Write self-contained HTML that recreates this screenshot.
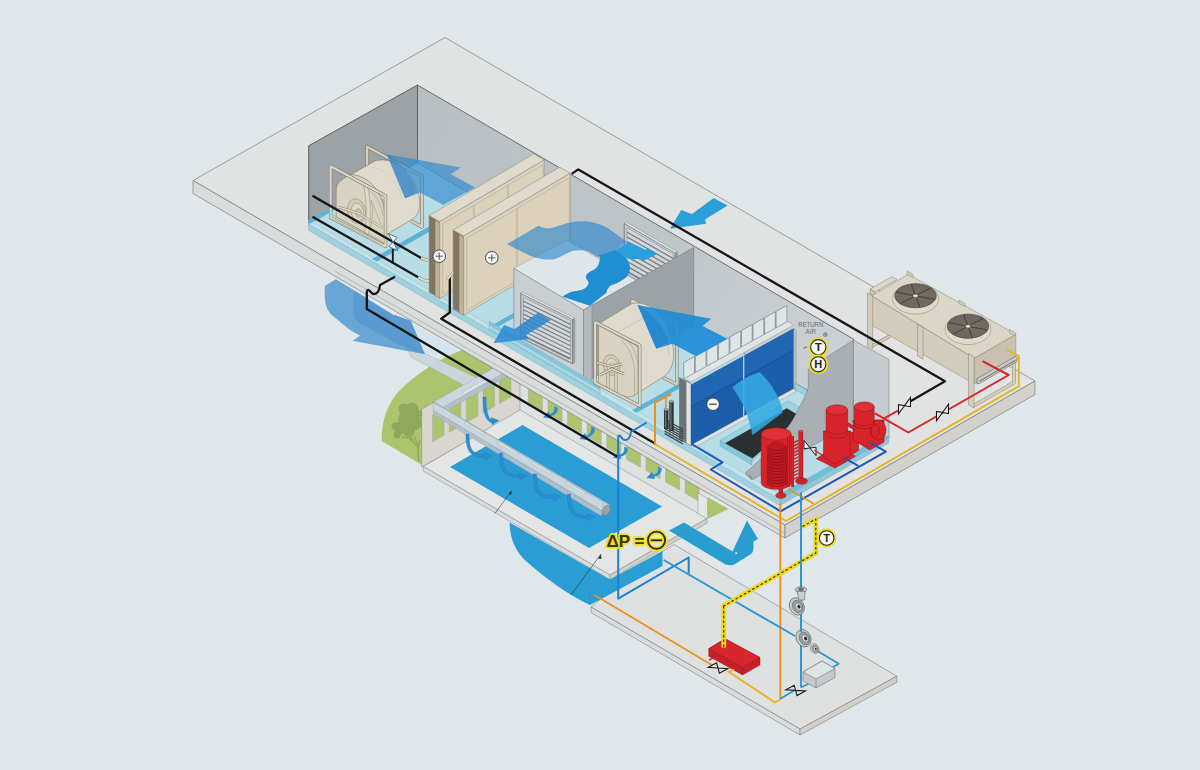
<!DOCTYPE html>
<html><head><meta charset="utf-8"><title>HVAC</title>
<style>
html,body{margin:0;padding:0;background:#e0e8eb;}
body{width:1200px;height:770px;overflow:hidden;font-family:"Liberation Sans",sans-serif;}
svg{display:block}
text{font-family:"Liberation Sans",sans-serif;}
</style></head><body>
<svg width="1200" height="770" viewBox="0 0 1200 770" stroke-linejoin="round">
<rect x="0" y="0" width="1200" height="770" fill="#e0e8eb"/>
<defs><linearGradient id="gw" gradientUnits="userSpaceOnUse" x1="417" y1="100" x2="853" y2="360"><stop offset="0" stop-color="#b7bfc3"/><stop offset="0.55" stop-color="#bfc6ca"/><stop offset="1" stop-color="#cbd1d4"/></linearGradient></defs>
<rect x="192" y="36.5" width="843" height="698.5" fill="#dfe7ea"/>
<polygon points="591.0,607.0 800.0,729.0 896.9,676.2 674.0,544.5 655.0,556.0" fill="#dee1e0" stroke="#6c7276" stroke-width="0.5" />
<polygon points="591.0,607.0 800.0,729.0 800.0,735.0 591.0,612.5" fill="#d9dcda" stroke="#6c7276" stroke-width="0.5" />
<polygon points="800.0,729.0 896.9,676.2 896.9,682.2 800.0,735.0" fill="#d2cfc9" stroke="#6c7276" stroke-width="0.5" />
<path d="M462,350 C440,358 415,375 400,390 C388,402 382,420 381.7,437 L381.7,441 L422,465 L560,470 L600,400 Z" fill="#acc46d" />
<circle cx="407" cy="419" r="8.5" fill="#8fa95c"/>
<circle cx="400" cy="428" r="6.5" fill="#8fa95c"/>
<circle cx="412" cy="409" r="6.5" fill="#8fa95c"/>
<circle cx="404" cy="409" r="5.5" fill="#8fa95c"/>
<circle cx="415" cy="423" r="7" fill="#8fa95c"/>
<circle cx="397" cy="435" r="3.6" fill="#8fa95c"/>
<circle cx="409" cy="431" r="6" fill="#8fa95c"/>
<circle cx="395" cy="426" r="3.5" fill="#8fa95c"/>
<circle cx="418" cy="414" r="4" fill="#8fa95c"/>
<path d="M418.8,461.5 L417.5,444 L414,436 M417.5,446 L409,438 L402,437 M413,441 L408,433 M417.6,450 L420,440" fill="none" stroke="#8fa95c" stroke-width="1.5" />
<polygon points="520.0,351.0 707.5,459.8 707.5,519.8 520.0,411.0" fill="#dde1e2" />
<polygon points="528.3,375.3 542.5,383.6 542.5,410.6 528.3,402.3" fill="#acc46d" stroke="#9aa" stroke-width="0.4" />
<polygon points="547.9,386.7 562.1,394.9 562.1,421.9 547.9,413.7" fill="#acc46d" stroke="#9aa" stroke-width="0.4" />
<polygon points="567.5,398.1 581.7,406.3 581.7,433.3 567.5,425.1" fill="#acc46d" stroke="#9aa" stroke-width="0.4" />
<polygon points="587.1,409.4 601.3,417.7 601.3,444.7 587.1,436.4" fill="#acc46d" stroke="#9aa" stroke-width="0.4" />
<polygon points="606.7,420.8 620.9,429.0 620.9,456.0 606.7,447.8" fill="#acc46d" stroke="#9aa" stroke-width="0.4" />
<polygon points="626.3,432.2 640.5,440.4 640.5,467.4 626.3,459.2" fill="#acc46d" stroke="#9aa" stroke-width="0.4" />
<polygon points="645.9,443.5 660.1,451.8 660.1,478.8 645.9,470.5" fill="#acc46d" stroke="#9aa" stroke-width="0.4" />
<polygon points="665.5,454.9 679.7,463.1 679.7,490.1 665.5,481.9" fill="#acc46d" stroke="#9aa" stroke-width="0.4" />
<polygon points="685.1,466.3 699.3,474.5 699.3,501.5 685.1,493.3" fill="#acc46d" stroke="#9aa" stroke-width="0.4" />
<polygon points="421.7,409.1 520.0,352.8 520.0,410.8 421.7,467.1" fill="#d9d6d0" stroke="#6c7276" stroke-width="0.4" />
<polygon points="432.5,414.9 444.1,408.3 444.1,435.3 432.5,441.9" fill="#acc46d" stroke="#9aa" stroke-width="0.4" />
<polygon points="449.2,405.4 460.8,398.7 460.8,425.7 449.2,432.4" fill="#acc46d" stroke="#9aa" stroke-width="0.4" />
<polygon points="466.3,395.6 477.9,388.9 477.9,415.9 466.3,422.6" fill="#acc46d" stroke="#9aa" stroke-width="0.4" />
<polygon points="483.0,386.0 494.6,379.3 494.6,406.3 483.0,413.0" fill="#acc46d" stroke="#9aa" stroke-width="0.4" />
<polygon points="499.4,376.6 511.0,369.9 511.0,396.9 499.4,403.6" fill="#acc46d" stroke="#9aa" stroke-width="0.4" />
<polygon points="423.3,466.5 610.0,575.0 707.0,518.5 520.0,410.0" fill="#e3e6e5" stroke="#6c7276" stroke-width="0.4" />
<polygon points="423.3,466.5 610.0,575.0 610.0,579.5 423.3,471.0" fill="#d9dcda" stroke="#6c7276" stroke-width="0.4" />
<polygon points="610.0,575.0 707.0,518.5 707.0,523.0 610.0,579.5" fill="#d2cfc9" stroke="#6c7276" stroke-width="0.4" />
<polygon points="450.0,467.0 522.5,425.0 662.0,506.5 589.0,548.0" fill="#2a9ed4" />
<path d="M509.5,522.5 L610,579.5 L662.5,551 L662.5,566 L590,605 C570,596 545,578 527,562 C516,552 510,540 509.5,522.5 Z" fill="#2a9ed4" />
<polyline points="590.0,592.0 590.0,605.0" fill="none" stroke="#2480b4" stroke-width="0.5" />
<polygon points="413.3,323.3 460.0,351.0 442.0,356.0 425.3,353.3" fill="#d5e4ec" />
<polygon points="405.0,344.0 478.7,378.7 465.0,386.0 411.0,357.0" fill="rgba(202,214,221,0.97)" stroke="#8e999f" stroke-width="0.35" />
<polygon points="433.3,402.0 497.0,366.0 507.0,371.5 443.0,407.5" fill="rgba(202,214,221,0.97)" stroke="#8e999f" stroke-width="0.35" />
<polygon points="443.0,407.5 507.0,371.5 507.0,376.5 443.0,412.5" fill="rgba(178,192,202,0.95)" stroke="#8e999f" stroke-width="0.3" />
<polygon points="462.0,392.5 486.0,379.0 489.0,380.7 465.0,394.2" fill="#dfe6ea" stroke="#8e999f" stroke-width="0.3" />
<polygon points="433.3,402.0 443.0,407.5 610.0,505.0 603.0,511.0" fill="rgba(202,214,221,0.97)" stroke="#8e999f" stroke-width="0.35" />
<polygon points="433.3,402.0 603.0,502.0 603.0,511.5 433.3,410.5" fill="rgba(202,214,221,0.97)" stroke="#8e999f" stroke-width="0.35" />
<polygon points="433.3,410.5 603.0,511.5 601.0,516.0 433.3,414.5" fill="rgba(178,192,202,0.95)" stroke="#8e999f" stroke-width="0.3" />
<polygon points="433.3,402.0 443.0,407.5 610.5,505.5 603.0,502.0" fill="#d9e2e7" stroke="#8e999f" stroke-width="0.3" />
<ellipse cx="606.3" cy="510.3" rx="3.6" ry="5.3" fill="#9aa2a7" stroke="#6f777c" stroke-width="0.4" transform="rotate(25 606.3 510.3)"/>
<polygon points="464.0,423.3 483.0,434.5 485.0,433.5 466.0,422.3" fill="#dfe7eb" stroke="#8e999f" stroke-width="0.3" />
<polygon points="497.0,442.8 516.0,454.0 518.0,453.0 499.0,441.8" fill="#dfe7eb" stroke="#8e999f" stroke-width="0.3" />
<polygon points="531.0,462.8 550.0,474.0 552.0,473.0 533.0,461.8" fill="#dfe7eb" stroke="#8e999f" stroke-width="0.3" />
<polygon points="565.0,482.9 584.0,494.1 586.0,493.1 567.0,481.9" fill="#dfe7eb" stroke="#8e999f" stroke-width="0.3" />
<path d="M482.9,397 C482.9,417 487.5,421.5 492,422.8 L492,425 L499,420.5 L491,417.5 L491.5,419.8 C489.5,419 486.1,415 486.1,397 Z" fill="#2a8fd2" stroke="#1f6fa8" stroke-width="0.3" />
<path d="M465.9,434 C465.9,452 470.5,456.5 485,457.8 L485,460 L492,455.5 L484,452.5 L484.5,454.8 C472.5,454 469.1,450 469.1,434 Z" fill="#2a8fd2" stroke="#1f6fa8" stroke-width="0.3" />
<path d="M499.4,453 C499.4,472 504,476.5 520,477.8 L520,480 L527,475.5 L519,472.5 L519.5,474.8 C506,474 502.6,470 502.6,453 Z" fill="#2a8fd2" stroke="#1f6fa8" stroke-width="0.3" />
<path d="M533.4,474 C533.4,493 538,497.5 554,498.8 L554,501 L561,496.5 L553,493.5 L553.5,495.8 C540,495 536.6,491 536.6,474 Z" fill="#2a8fd2" stroke="#1f6fa8" stroke-width="0.3" />
<path d="M567.4,494 C567.4,513 572,517.5 588,518.8 L588,521 L595,516.5 L587,513.5 L587.5,515.8 C574,515 570.6,511 570.6,494 Z" fill="#2a8fd2" stroke="#1f6fa8" stroke-width="0.3" />
<path d="M554.2,406 C555,412 551.5,415 549.5,413.5 L548.5,411.5 L543.0,417.5 L551.5,418.5 L550.7,416.3 C554.5,415 558,413 557.8,408 Z" fill="#2a8fd2" />
<path d="M591.2,426.5 C592,432.5 588,436.5 586,435.0 L585,433.0 L579.5,439.0 L588,440.0 L587.2,437.8 C591,436.5 595,433.5 594.8,428.5 Z" fill="#2a8fd2" />
<path d="M624.2,446.5 C625,452.5 621.5,455.5 619.5,454.0 L618.5,452.0 L613.0,458.0 L621.5,459.0 L620.7,456.8 C624.5,455.5 628,453.5 627.8,448.5 Z" fill="#2a8fd2" />
<path d="M658.2,466.5 C659,472.5 655,475.5 653,474.0 L652,472.0 L646.5,478.0 L655,479.0 L654.2,476.8 C658,475.5 662,473.5 661.8,468.5 Z" fill="#2a8fd2" />
<polyline points="495.0,513.3 511.3,491.3" fill="none" stroke="#333" stroke-width="0.6" />
<polygon points="511.8,490.6 508.6,493.6 511.0,495.3" fill="#333" />
<polyline points="571.0,595.0 601.0,554.0" fill="none" stroke="#333" stroke-width="0.6" />
<polygon points="601.0,554.0 598.0,558.5 601.5,559.0" fill="#333" />
<path d="M669,530.5 L684,522.5 L732.5,551.5 L747,520.5 L758,539 L753.5,541.5 L753.5,548 C753.5,551 752.5,553 751,554 L735,564 C732,566 726,565.5 723,563 Z" fill="#2a9dd0" />
<circle cx="736.2" cy="553.2" r="0.9" fill="#fff"/>
<polygon points="698.0,493.0 707.5,498.5 707.5,519.0 698.0,513.5" fill="#e4e7e6" stroke="#6c7276" stroke-width="0.35" />
<polygon points="707.5,497.0 728.5,509.0 707.5,519.0" fill="#acc46d" />
<path d="M335.8,279.2 L325,285.8 C324.5,293 324.5,298 325.3,301.7 C326,307 328,311 331.7,315 L350,330 L360,335.8 L352.5,340.8 L425,354.2 L410.8,320.8 L396.7,315.8 Z" fill="rgba(60,140,205,0.72)" />
<path d="M353.3,290.8 L353.3,315 C356,322 362,326 366.7,326.7 L396.7,344 L425,354.2 L410.8,320.8 L396.7,315.8 Z" fill="rgba(40,120,195,0.22)" />
<polygon points="368.5,299.5 371.0,296.5 398.0,312.0 394.5,315.5" fill="#e6edf0" stroke="#9aa" stroke-width="0.3" />
<polygon points="445.0,37.5 193.0,180.5 785.0,525.0 1035.0,381.0" fill="#e0e3e2" stroke="#6c7276" stroke-width="0.6" />
<polygon points="193.0,180.5 785.0,525.0 785.0,538.0 193.0,193.5" fill="#d9dcda" stroke="#6c7276" stroke-width="0.6" />
<polygon points="785.0,525.0 1035.0,381.0 1035.0,394.5 785.0,538.0" fill="#d3d1cb" stroke="#6c7276" stroke-width="0.6" />
<polyline points="335.0,271.1 784.0,533.0" fill="none" stroke="#7d8387" stroke-width="0.4" />
<polygon points="308.7,145.8 417.5,85.0 417.5,163.0 308.7,224.0" fill="#9ca3a7" stroke="#4f5558" stroke-width="0.9" />
<polygon points="417.5,85.0 853.8,339.3 853.8,417.3 417.5,163.0" fill="url(#gw)" stroke="#4f5558" stroke-width="0.8" />
<polygon points="417.5,163.0 308.7,224.0 308.7,225.0 780.0,500.0 888.7,437.5 888.7,417.7 853.0,416.9" fill="#b9dde6" />
<polygon points="308.7,224.0 780.0,499.5 780.0,505.5 308.7,230.5" fill="#a0d1df" stroke="#6aa7b8" stroke-width="0.4" />
<polygon points="780.0,499.5 888.7,437.5 888.7,443.0 780.0,505.5" fill="#8fc6d8" stroke="#6aa7b8" stroke-width="0.4" />
<polygon points="308.7,220.0 780.0,494.0 780.0,499.5 308.7,224.0" fill="#c2e2ea" stroke="#7fb5c4" stroke-width="0.35" />
<polygon points="780.0,494.0 888.7,432.5 888.7,437.5 780.0,499.5" fill="#74bed4" stroke="#5ea5bb" stroke-width="0.35" />
<polygon points="308.7,220.0 417.5,159.0 417.5,163.5 316.0,220.5 308.7,224.2" fill="#5fb3d2" />
<polygon points="372.0,258.9 432.0,224.7 436.9,227.4 376.9,261.6" fill="#5fb3d2" />
<polygon points="632.0,410.3 688.0,378.4 692.5,380.9 636.5,412.8" fill="#5fb3d2" />
<polygon points="489.0,327.0 516.0,311.6 520.5,314.1 493.5,329.5" fill="#5fb3d2" />
<g transform="matrix(1.0000 0.0000 0 1.0000 0.00 0.00)">
<polyline points="367.1,198.1 367.1,146.7 422.0,176.3 422.0,226.9 411.1,221.0" fill="none" stroke="#7a715c" stroke-width="3.4" />
<polyline points="367.1,198.1 367.1,146.7 422.0,176.3 422.0,226.9 411.1,221.0" fill="none" stroke="#d6d0be" stroke-width="2.4" />
</g>
<g transform="matrix(1.0000 0.0000 0 1.0000 0.00 0.00)">
<path d="M336.2,190 C336.5,181 342,178.5 351,174.5 L376,160.5 C396,156.5 415,172 419.6,200 C420.4,210 417.5,215.5 413.5,218.5 L386,235 L384,200 Z" fill="#dfdacb" stroke="#7a715c" stroke-width="0.5" />
<path d="M351,174.5 C366,175 380,188 384,206" fill="none" stroke="#b9ae95" stroke-width="0.5" />
<path d="M366,166.5 C384,167 398,180 402,199" fill="none" stroke="#c9bfa8" stroke-width="0.4" />
<path d="M336.2,190 C336.5,182 343,178.5 351,174.5 C368,176 382,190 384.5,212 L384.5,243.5 L336.2,217 Z" fill="#d8d2c0" stroke="#7a715c" stroke-width="0.5" />
<path d="M363.5,185 C367,200 367,222 364.5,232.5 L368.5,234.8 C371,222 371,200 367.5,186.5 Z" fill="#dfdacb" stroke="#7a715c" stroke-width="0.4" />
<ellipse cx="356.5" cy="211" rx="9" ry="12.5" fill="#d2cbb8" stroke="#8d8470" stroke-width="0.5" transform="rotate(-12 356.5 211)"/>
<ellipse cx="357.5" cy="212" rx="6.2" ry="9" fill="#ddd7c6" stroke="#8d8470" stroke-width="0.5" transform="rotate(-12 357.5 212)"/>
<ellipse cx="358.5" cy="213" rx="3" ry="4.4" fill="#c9c2ae" stroke="#8d8470" stroke-width="0.4" transform="rotate(-12 358.5 213)"/>
<polyline points="338.0,207.0 358.0,213.0 383.0,228.0" fill="none" stroke="#8d8470" stroke-width="2.6" />
<polyline points="338.0,207.0 358.0,213.0 383.0,228.0" fill="none" stroke="#e1d8c4" stroke-width="1.6" />
<path d="M369,190 C377,196 382,206 383,216 M371,200 L381,224 M371,200 C374,212 372,222 370,230" fill="none" stroke="#9a917b" stroke-width="0.5" />
<polyline points="330.6,166.2 385.5,195.8 385.5,246.4 330.6,217.6 330.6,166.2" fill="none" stroke="#7a715c" stroke-width="3.3" />
<polyline points="330.6,166.2 385.5,195.8 385.5,246.4 330.6,217.6 330.6,166.2" fill="none" stroke="#dbd5c4" stroke-width="2.3" />
<polyline points="333.6,219.2 382.6,245.7" fill="none" stroke="#a79d85" stroke-width="0.6" />
<polyline points="333.6,215.2 382.6,241.7" fill="none" stroke="#a79d85" stroke-width="0.6" />
</g>
<polygon points="429.2,215.5 439.7,221.6 439.7,298.6 429.2,292.5" fill="#a59a80" stroke="#6a614d" stroke-width="0.5" />
<polyline points="429.7,217.1 435.3,220.6" fill="none" stroke="#4d4536" stroke-width="0.7" />
<polyline points="429.7,218.7 435.3,222.2" fill="none" stroke="#4d4536" stroke-width="0.7" />
<polyline points="429.7,220.3 435.3,223.8" fill="none" stroke="#4d4536" stroke-width="0.7" />
<polyline points="429.7,221.9 435.3,225.4" fill="none" stroke="#4d4536" stroke-width="0.7" />
<polyline points="429.7,223.5 435.3,227.1" fill="none" stroke="#4d4536" stroke-width="0.7" />
<polyline points="429.7,225.1 435.3,228.7" fill="none" stroke="#4d4536" stroke-width="0.7" />
<polyline points="429.7,226.7 435.3,230.3" fill="none" stroke="#4d4536" stroke-width="0.7" />
<polyline points="429.7,228.3 435.3,231.9" fill="none" stroke="#4d4536" stroke-width="0.7" />
<polyline points="429.7,229.9 435.3,233.5" fill="none" stroke="#4d4536" stroke-width="0.7" />
<polyline points="429.7,231.5 435.3,235.1" fill="none" stroke="#4d4536" stroke-width="0.7" />
<polyline points="429.7,233.1 435.3,236.7" fill="none" stroke="#4d4536" stroke-width="0.7" />
<polyline points="429.7,234.8 435.3,238.3" fill="none" stroke="#4d4536" stroke-width="0.7" />
<polyline points="429.7,236.4 435.3,239.9" fill="none" stroke="#4d4536" stroke-width="0.7" />
<polyline points="429.7,238.0 435.3,241.5" fill="none" stroke="#4d4536" stroke-width="0.7" />
<polyline points="429.7,239.6 435.3,243.1" fill="none" stroke="#4d4536" stroke-width="0.7" />
<polyline points="429.7,241.2 435.3,244.7" fill="none" stroke="#4d4536" stroke-width="0.7" />
<polyline points="429.7,242.8 435.3,246.3" fill="none" stroke="#4d4536" stroke-width="0.7" />
<polyline points="429.7,244.4 435.3,247.9" fill="none" stroke="#4d4536" stroke-width="0.7" />
<polyline points="429.7,246.0 435.3,249.5" fill="none" stroke="#4d4536" stroke-width="0.7" />
<polyline points="429.7,247.6 435.3,251.1" fill="none" stroke="#4d4536" stroke-width="0.7" />
<polyline points="429.7,249.2 435.3,252.7" fill="none" stroke="#4d4536" stroke-width="0.7" />
<polyline points="429.7,250.8 435.3,254.3" fill="none" stroke="#4d4536" stroke-width="0.7" />
<polyline points="429.7,252.4 435.3,255.9" fill="none" stroke="#4d4536" stroke-width="0.7" />
<polyline points="429.7,254.0 435.3,257.5" fill="none" stroke="#4d4536" stroke-width="0.7" />
<polyline points="429.7,255.6 435.3,259.1" fill="none" stroke="#4d4536" stroke-width="0.7" />
<polyline points="429.7,257.2 435.3,260.7" fill="none" stroke="#4d4536" stroke-width="0.7" />
<polyline points="429.7,258.8 435.3,262.3" fill="none" stroke="#4d4536" stroke-width="0.7" />
<polyline points="429.7,260.4 435.3,263.9" fill="none" stroke="#4d4536" stroke-width="0.7" />
<polyline points="429.7,262.0 435.3,265.6" fill="none" stroke="#4d4536" stroke-width="0.7" />
<polyline points="429.7,263.6 435.3,267.2" fill="none" stroke="#4d4536" stroke-width="0.7" />
<polyline points="429.7,265.2 435.3,268.8" fill="none" stroke="#4d4536" stroke-width="0.7" />
<polyline points="429.7,266.8 435.3,270.4" fill="none" stroke="#4d4536" stroke-width="0.7" />
<polyline points="429.7,268.4 435.3,272.0" fill="none" stroke="#4d4536" stroke-width="0.7" />
<polyline points="429.7,270.0 435.3,273.6" fill="none" stroke="#4d4536" stroke-width="0.7" />
<polyline points="429.7,271.6 435.3,275.2" fill="none" stroke="#4d4536" stroke-width="0.7" />
<polyline points="429.7,273.2 435.3,276.8" fill="none" stroke="#4d4536" stroke-width="0.7" />
<polyline points="429.7,274.9 435.3,278.4" fill="none" stroke="#4d4536" stroke-width="0.7" />
<polyline points="429.7,276.5 435.3,280.0" fill="none" stroke="#4d4536" stroke-width="0.7" />
<polyline points="429.7,278.1 435.3,281.6" fill="none" stroke="#4d4536" stroke-width="0.7" />
<polyline points="429.7,279.7 435.3,283.2" fill="none" stroke="#4d4536" stroke-width="0.7" />
<polyline points="429.7,281.3 435.3,284.8" fill="none" stroke="#4d4536" stroke-width="0.7" />
<polyline points="429.7,282.9 435.3,286.4" fill="none" stroke="#4d4536" stroke-width="0.7" />
<polyline points="429.7,284.5 435.3,288.0" fill="none" stroke="#4d4536" stroke-width="0.7" />
<polyline points="429.7,286.1 435.3,289.6" fill="none" stroke="#4d4536" stroke-width="0.7" />
<polyline points="429.7,287.7 435.3,291.2" fill="none" stroke="#4d4536" stroke-width="0.7" />
<polyline points="429.7,289.3 435.3,292.8" fill="none" stroke="#4d4536" stroke-width="0.7" />
<polyline points="429.7,290.9 435.3,294.4" fill="none" stroke="#4d4536" stroke-width="0.7" />
<polygon points="435.3,221.1 439.7,223.6 439.7,298.6 435.3,296.1" fill="#cfc4aa" stroke="#8d8470" stroke-width="0.4" />
<polyline points="435.3,222.2 439.2,224.8" fill="none" stroke="#8d8470" stroke-width="0.4" />
<polyline points="435.3,223.8 439.2,226.4" fill="none" stroke="#8d8470" stroke-width="0.4" />
<polyline points="435.3,225.4 439.2,228.0" fill="none" stroke="#8d8470" stroke-width="0.4" />
<polyline points="435.3,227.1 439.2,229.6" fill="none" stroke="#8d8470" stroke-width="0.4" />
<polyline points="435.3,228.7 439.2,231.2" fill="none" stroke="#8d8470" stroke-width="0.4" />
<polyline points="435.3,230.3 439.2,232.8" fill="none" stroke="#8d8470" stroke-width="0.4" />
<polyline points="435.3,231.9 439.2,234.4" fill="none" stroke="#8d8470" stroke-width="0.4" />
<polyline points="435.3,233.5 439.2,236.0" fill="none" stroke="#8d8470" stroke-width="0.4" />
<polyline points="435.3,235.1 439.2,237.7" fill="none" stroke="#8d8470" stroke-width="0.4" />
<polyline points="435.3,236.7 439.2,239.3" fill="none" stroke="#8d8470" stroke-width="0.4" />
<polyline points="435.3,238.3 439.2,240.9" fill="none" stroke="#8d8470" stroke-width="0.4" />
<polyline points="435.3,239.9 439.2,242.5" fill="none" stroke="#8d8470" stroke-width="0.4" />
<polyline points="435.3,241.5 439.2,244.1" fill="none" stroke="#8d8470" stroke-width="0.4" />
<polyline points="435.3,243.1 439.2,245.7" fill="none" stroke="#8d8470" stroke-width="0.4" />
<polyline points="435.3,244.7 439.2,247.3" fill="none" stroke="#8d8470" stroke-width="0.4" />
<polyline points="435.3,246.3 439.2,248.9" fill="none" stroke="#8d8470" stroke-width="0.4" />
<polyline points="435.3,247.9 439.2,250.5" fill="none" stroke="#8d8470" stroke-width="0.4" />
<polyline points="435.3,249.5 439.2,252.1" fill="none" stroke="#8d8470" stroke-width="0.4" />
<polyline points="435.3,251.1 439.2,253.7" fill="none" stroke="#8d8470" stroke-width="0.4" />
<polyline points="435.3,252.7 439.2,255.3" fill="none" stroke="#8d8470" stroke-width="0.4" />
<polyline points="435.3,254.3 439.2,256.9" fill="none" stroke="#8d8470" stroke-width="0.4" />
<polyline points="435.3,255.9 439.2,258.5" fill="none" stroke="#8d8470" stroke-width="0.4" />
<polyline points="435.3,257.5 439.2,260.1" fill="none" stroke="#8d8470" stroke-width="0.4" />
<polyline points="435.3,259.1 439.2,261.7" fill="none" stroke="#8d8470" stroke-width="0.4" />
<polyline points="435.3,260.7 439.2,263.3" fill="none" stroke="#8d8470" stroke-width="0.4" />
<polyline points="435.3,262.3 439.2,264.9" fill="none" stroke="#8d8470" stroke-width="0.4" />
<polyline points="435.3,263.9 439.2,266.5" fill="none" stroke="#8d8470" stroke-width="0.4" />
<polyline points="435.3,265.6 439.2,268.1" fill="none" stroke="#8d8470" stroke-width="0.4" />
<polyline points="435.3,267.2 439.2,269.7" fill="none" stroke="#8d8470" stroke-width="0.4" />
<polyline points="435.3,268.8 439.2,271.3" fill="none" stroke="#8d8470" stroke-width="0.4" />
<polyline points="435.3,270.4 439.2,272.9" fill="none" stroke="#8d8470" stroke-width="0.4" />
<polyline points="435.3,272.0 439.2,274.5" fill="none" stroke="#8d8470" stroke-width="0.4" />
<polyline points="435.3,273.6 439.2,276.2" fill="none" stroke="#8d8470" stroke-width="0.4" />
<polyline points="435.3,275.2 439.2,277.8" fill="none" stroke="#8d8470" stroke-width="0.4" />
<polyline points="435.3,276.8 439.2,279.4" fill="none" stroke="#8d8470" stroke-width="0.4" />
<polyline points="435.3,278.4 439.2,281.0" fill="none" stroke="#8d8470" stroke-width="0.4" />
<polyline points="435.3,280.0 439.2,282.6" fill="none" stroke="#8d8470" stroke-width="0.4" />
<polyline points="435.3,281.6 439.2,284.2" fill="none" stroke="#8d8470" stroke-width="0.4" />
<polyline points="435.3,283.2 439.2,285.8" fill="none" stroke="#8d8470" stroke-width="0.4" />
<polyline points="435.3,284.8 439.2,287.4" fill="none" stroke="#8d8470" stroke-width="0.4" />
<polyline points="435.3,286.4 439.2,289.0" fill="none" stroke="#8d8470" stroke-width="0.4" />
<polyline points="435.3,288.0 439.2,290.6" fill="none" stroke="#8d8470" stroke-width="0.4" />
<polyline points="435.3,289.6 439.2,292.2" fill="none" stroke="#8d8470" stroke-width="0.4" />
<polyline points="435.3,291.2 439.2,293.8" fill="none" stroke="#8d8470" stroke-width="0.4" />
<polyline points="435.3,292.8 439.2,295.4" fill="none" stroke="#8d8470" stroke-width="0.4" />
<polyline points="435.3,294.4 439.2,297.0" fill="none" stroke="#8d8470" stroke-width="0.4" />
<polygon points="429.2,215.5 439.7,221.6 544.2,160.0 533.7,153.8" fill="#dfdacb" stroke="#8d8470" stroke-width="0.5" />
<polygon points="439.7,221.6 544.2,160.0 544.2,237.0 439.7,298.6" fill="#d8d2c0" stroke="#8d8470" stroke-width="0.5" />
<polygon points="442.7,223.8 543.2,164.6 543.2,234.6 442.7,293.8" fill="#dcd2bc" stroke="#a39a82" stroke-width="0.45" />
<polyline points="473.7,205.6 473.7,275.6" fill="none" stroke="#a39a82" stroke-width="1.6" />
<polyline points="473.7,205.6 473.7,275.6" fill="none" stroke="#e4dcc9" stroke-width="0.8" />
<polyline points="507.7,185.5 507.7,255.5" fill="none" stroke="#a39a82" stroke-width="1.6" />
<polyline points="507.7,185.5 507.7,255.5" fill="none" stroke="#e4dcc9" stroke-width="0.8" />
<polygon points="453.2,230.0 463.7,236.1 463.7,315.1 453.2,309.0" fill="#a59a80" stroke="#6a614d" stroke-width="0.5" />
<polyline points="453.7,231.6 459.3,235.1" fill="none" stroke="#4d4536" stroke-width="0.7" />
<polyline points="453.7,233.2 459.3,236.8" fill="none" stroke="#4d4536" stroke-width="0.7" />
<polyline points="453.7,234.8 459.3,238.4" fill="none" stroke="#4d4536" stroke-width="0.7" />
<polyline points="453.7,236.4 459.3,240.0" fill="none" stroke="#4d4536" stroke-width="0.7" />
<polyline points="453.7,238.1 459.3,241.6" fill="none" stroke="#4d4536" stroke-width="0.7" />
<polyline points="453.7,239.7 459.3,243.2" fill="none" stroke="#4d4536" stroke-width="0.7" />
<polyline points="453.7,241.3 459.3,244.8" fill="none" stroke="#4d4536" stroke-width="0.7" />
<polyline points="453.7,242.9 459.3,246.4" fill="none" stroke="#4d4536" stroke-width="0.7" />
<polyline points="453.7,244.5 459.3,248.0" fill="none" stroke="#4d4536" stroke-width="0.7" />
<polyline points="453.7,246.1 459.3,249.7" fill="none" stroke="#4d4536" stroke-width="0.7" />
<polyline points="453.7,247.7 459.3,251.3" fill="none" stroke="#4d4536" stroke-width="0.7" />
<polyline points="453.7,249.3 459.3,252.9" fill="none" stroke="#4d4536" stroke-width="0.7" />
<polyline points="453.7,251.0 459.3,254.5" fill="none" stroke="#4d4536" stroke-width="0.7" />
<polyline points="453.7,252.6 459.3,256.1" fill="none" stroke="#4d4536" stroke-width="0.7" />
<polyline points="453.7,254.2 459.3,257.7" fill="none" stroke="#4d4536" stroke-width="0.7" />
<polyline points="453.7,255.8 459.3,259.3" fill="none" stroke="#4d4536" stroke-width="0.7" />
<polyline points="453.7,257.4 459.3,260.9" fill="none" stroke="#4d4536" stroke-width="0.7" />
<polyline points="453.7,259.0 459.3,262.6" fill="none" stroke="#4d4536" stroke-width="0.7" />
<polyline points="453.7,260.6 459.3,264.2" fill="none" stroke="#4d4536" stroke-width="0.7" />
<polyline points="453.7,262.2 459.3,265.8" fill="none" stroke="#4d4536" stroke-width="0.7" />
<polyline points="453.7,263.9 459.3,267.4" fill="none" stroke="#4d4536" stroke-width="0.7" />
<polyline points="453.7,265.5 459.3,269.0" fill="none" stroke="#4d4536" stroke-width="0.7" />
<polyline points="453.7,267.1 459.3,270.6" fill="none" stroke="#4d4536" stroke-width="0.7" />
<polyline points="453.7,268.7 459.3,272.2" fill="none" stroke="#4d4536" stroke-width="0.7" />
<polyline points="453.7,270.3 459.3,273.8" fill="none" stroke="#4d4536" stroke-width="0.7" />
<polyline points="453.7,271.9 459.3,275.5" fill="none" stroke="#4d4536" stroke-width="0.7" />
<polyline points="453.7,273.5 459.3,277.1" fill="none" stroke="#4d4536" stroke-width="0.7" />
<polyline points="453.7,275.1 459.3,278.7" fill="none" stroke="#4d4536" stroke-width="0.7" />
<polyline points="453.7,276.8 459.3,280.3" fill="none" stroke="#4d4536" stroke-width="0.7" />
<polyline points="453.7,278.4 459.3,281.9" fill="none" stroke="#4d4536" stroke-width="0.7" />
<polyline points="453.7,280.0 459.3,283.5" fill="none" stroke="#4d4536" stroke-width="0.7" />
<polyline points="453.7,281.6 459.3,285.1" fill="none" stroke="#4d4536" stroke-width="0.7" />
<polyline points="453.7,283.2 459.3,286.7" fill="none" stroke="#4d4536" stroke-width="0.7" />
<polyline points="453.7,284.8 459.3,288.3" fill="none" stroke="#4d4536" stroke-width="0.7" />
<polyline points="453.7,286.4 459.3,290.0" fill="none" stroke="#4d4536" stroke-width="0.7" />
<polyline points="453.7,288.0 459.3,291.6" fill="none" stroke="#4d4536" stroke-width="0.7" />
<polyline points="453.7,289.7 459.3,293.2" fill="none" stroke="#4d4536" stroke-width="0.7" />
<polyline points="453.7,291.3 459.3,294.8" fill="none" stroke="#4d4536" stroke-width="0.7" />
<polyline points="453.7,292.9 459.3,296.4" fill="none" stroke="#4d4536" stroke-width="0.7" />
<polyline points="453.7,294.5 459.3,298.0" fill="none" stroke="#4d4536" stroke-width="0.7" />
<polyline points="453.7,296.1 459.3,299.6" fill="none" stroke="#4d4536" stroke-width="0.7" />
<polyline points="453.7,297.7 459.3,301.2" fill="none" stroke="#4d4536" stroke-width="0.7" />
<polyline points="453.7,299.3 459.3,302.9" fill="none" stroke="#4d4536" stroke-width="0.7" />
<polyline points="453.7,300.9 459.3,304.5" fill="none" stroke="#4d4536" stroke-width="0.7" />
<polyline points="453.7,302.6 459.3,306.1" fill="none" stroke="#4d4536" stroke-width="0.7" />
<polyline points="453.7,304.2 459.3,307.7" fill="none" stroke="#4d4536" stroke-width="0.7" />
<polyline points="453.7,305.8 459.3,309.3" fill="none" stroke="#4d4536" stroke-width="0.7" />
<polyline points="453.7,307.4 459.3,310.9" fill="none" stroke="#4d4536" stroke-width="0.7" />
<polygon points="459.3,235.6 463.7,238.1 463.7,315.1 459.3,312.6" fill="#cfc4aa" stroke="#8d8470" stroke-width="0.4" />
<polyline points="459.3,236.8 463.2,239.3" fill="none" stroke="#8d8470" stroke-width="0.4" />
<polyline points="459.3,238.4 463.2,240.9" fill="none" stroke="#8d8470" stroke-width="0.4" />
<polyline points="459.3,240.0 463.2,242.6" fill="none" stroke="#8d8470" stroke-width="0.4" />
<polyline points="459.3,241.6 463.2,244.2" fill="none" stroke="#8d8470" stroke-width="0.4" />
<polyline points="459.3,243.2 463.2,245.8" fill="none" stroke="#8d8470" stroke-width="0.4" />
<polyline points="459.3,244.8 463.2,247.4" fill="none" stroke="#8d8470" stroke-width="0.4" />
<polyline points="459.3,246.4 463.2,249.0" fill="none" stroke="#8d8470" stroke-width="0.4" />
<polyline points="459.3,248.0 463.2,250.6" fill="none" stroke="#8d8470" stroke-width="0.4" />
<polyline points="459.3,249.7 463.2,252.2" fill="none" stroke="#8d8470" stroke-width="0.4" />
<polyline points="459.3,251.3 463.2,253.8" fill="none" stroke="#8d8470" stroke-width="0.4" />
<polyline points="459.3,252.9 463.2,255.5" fill="none" stroke="#8d8470" stroke-width="0.4" />
<polyline points="459.3,254.5 463.2,257.1" fill="none" stroke="#8d8470" stroke-width="0.4" />
<polyline points="459.3,256.1 463.2,258.7" fill="none" stroke="#8d8470" stroke-width="0.4" />
<polyline points="459.3,257.7 463.2,260.3" fill="none" stroke="#8d8470" stroke-width="0.4" />
<polyline points="459.3,259.3 463.2,261.9" fill="none" stroke="#8d8470" stroke-width="0.4" />
<polyline points="459.3,260.9 463.2,263.5" fill="none" stroke="#8d8470" stroke-width="0.4" />
<polyline points="459.3,262.6 463.2,265.1" fill="none" stroke="#8d8470" stroke-width="0.4" />
<polyline points="459.3,264.2 463.2,266.7" fill="none" stroke="#8d8470" stroke-width="0.4" />
<polyline points="459.3,265.8 463.2,268.4" fill="none" stroke="#8d8470" stroke-width="0.4" />
<polyline points="459.3,267.4 463.2,270.0" fill="none" stroke="#8d8470" stroke-width="0.4" />
<polyline points="459.3,269.0 463.2,271.6" fill="none" stroke="#8d8470" stroke-width="0.4" />
<polyline points="459.3,270.6 463.2,273.2" fill="none" stroke="#8d8470" stroke-width="0.4" />
<polyline points="459.3,272.2 463.2,274.8" fill="none" stroke="#8d8470" stroke-width="0.4" />
<polyline points="459.3,273.8 463.2,276.4" fill="none" stroke="#8d8470" stroke-width="0.4" />
<polyline points="459.3,275.5 463.2,278.0" fill="none" stroke="#8d8470" stroke-width="0.4" />
<polyline points="459.3,277.1 463.2,279.6" fill="none" stroke="#8d8470" stroke-width="0.4" />
<polyline points="459.3,278.7 463.2,281.3" fill="none" stroke="#8d8470" stroke-width="0.4" />
<polyline points="459.3,280.3 463.2,282.9" fill="none" stroke="#8d8470" stroke-width="0.4" />
<polyline points="459.3,281.9 463.2,284.5" fill="none" stroke="#8d8470" stroke-width="0.4" />
<polyline points="459.3,283.5 463.2,286.1" fill="none" stroke="#8d8470" stroke-width="0.4" />
<polyline points="459.3,285.1 463.2,287.7" fill="none" stroke="#8d8470" stroke-width="0.4" />
<polyline points="459.3,286.7 463.2,289.3" fill="none" stroke="#8d8470" stroke-width="0.4" />
<polyline points="459.3,288.3 463.2,290.9" fill="none" stroke="#8d8470" stroke-width="0.4" />
<polyline points="459.3,290.0 463.2,292.5" fill="none" stroke="#8d8470" stroke-width="0.4" />
<polyline points="459.3,291.6 463.2,294.2" fill="none" stroke="#8d8470" stroke-width="0.4" />
<polyline points="459.3,293.2 463.2,295.8" fill="none" stroke="#8d8470" stroke-width="0.4" />
<polyline points="459.3,294.8 463.2,297.4" fill="none" stroke="#8d8470" stroke-width="0.4" />
<polyline points="459.3,296.4 463.2,299.0" fill="none" stroke="#8d8470" stroke-width="0.4" />
<polyline points="459.3,298.0 463.2,300.6" fill="none" stroke="#8d8470" stroke-width="0.4" />
<polyline points="459.3,299.6 463.2,302.2" fill="none" stroke="#8d8470" stroke-width="0.4" />
<polyline points="459.3,301.2 463.2,303.8" fill="none" stroke="#8d8470" stroke-width="0.4" />
<polyline points="459.3,302.9 463.2,305.4" fill="none" stroke="#8d8470" stroke-width="0.4" />
<polyline points="459.3,304.5 463.2,307.0" fill="none" stroke="#8d8470" stroke-width="0.4" />
<polyline points="459.3,306.1 463.2,308.7" fill="none" stroke="#8d8470" stroke-width="0.4" />
<polyline points="459.3,307.7 463.2,310.3" fill="none" stroke="#8d8470" stroke-width="0.4" />
<polyline points="459.3,309.3 463.2,311.9" fill="none" stroke="#8d8470" stroke-width="0.4" />
<polyline points="459.3,310.9 463.2,313.5" fill="none" stroke="#8d8470" stroke-width="0.4" />
<polygon points="453.2,230.0 463.7,236.1 570.2,173.3 559.7,167.2" fill="#dfdacb" stroke="#8d8470" stroke-width="0.5" />
<polygon points="463.7,236.1 570.2,173.3 570.2,252.3 463.7,315.1" fill="#d8d2c0" stroke="#8d8470" stroke-width="0.5" />
<polygon points="466.7,238.3 569.2,177.9 569.2,249.9 466.7,310.3" fill="#dcd2bc" stroke="#a39a82" stroke-width="0.45" />
<polyline points="516.7,208.8 516.7,280.8" fill="none" stroke="#a39a82" stroke-width="1.6" />
<polyline points="516.7,208.8 516.7,280.8" fill="none" stroke="#e4dcc9" stroke-width="0.8" />
<circle cx="491.8" cy="257.8" r="6.3" fill="#f4f6f6" stroke="#333" stroke-width="0.9"/>
<polyline points="488.2,257.8 495.4,257.8" fill="none" stroke="#555" stroke-width="1.0" />
<polyline points="491.8,254.2 491.8,261.4" fill="none" stroke="#555" stroke-width="1.0" />
<circle cx="439.2" cy="256.2" r="6.3" fill="#f4f6f6" stroke="#333" stroke-width="0.9"/>
<polyline points="435.6,256.2 442.8,256.2" fill="none" stroke="#555" stroke-width="1.0" />
<polyline points="439.2,252.6 439.2,259.8" fill="none" stroke="#555" stroke-width="1.0" />
<polygon points="624.2,223.3 675.2,252.9 675.2,302.9 624.2,273.3" fill="#c3c8cb" stroke="#565c60" stroke-width="0.7" />
<polygon points="627.2,228.0 672.8,254.1 672.8,298.1 627.2,272.0" fill="#7a8185" stroke="#565c60" stroke-width="0.5" />
<polygon points="627.2,228.0 672.8,254.1 672.8,257.5 627.2,231.4" fill="#d3d7d9" />
<polygon points="627.2,232.9 672.8,259.0 672.8,262.4 627.2,236.3" fill="#d3d7d9" />
<polygon points="627.2,237.8 672.8,263.9 672.8,267.2 627.2,241.1" fill="#d3d7d9" />
<polygon points="627.2,242.7 672.8,268.8 672.8,272.1 627.2,246.0" fill="#d3d7d9" />
<polygon points="627.2,247.6 672.8,273.7 672.8,277.0 627.2,250.9" fill="#d3d7d9" />
<polygon points="627.2,252.5 672.8,278.6 672.8,281.9 627.2,255.8" fill="#d3d7d9" />
<polygon points="627.2,257.4 672.8,283.5 672.8,286.8 627.2,260.7" fill="#d3d7d9" />
<polygon points="627.2,262.3 672.8,288.4 672.8,291.7 627.2,265.6" fill="#d3d7d9" />
<polygon points="627.2,267.2 672.8,293.3 672.8,296.6 627.2,270.5" fill="#d3d7d9" />
<polygon points="675.2,252.9 677.4,251.8 677.4,301.8 675.2,302.9" fill="#9aa1a4" stroke="#6f7578" stroke-width="0.4" />
<polygon points="624.2,223.3 626.4,222.2 677.4,251.8 675.2,252.9" fill="#e3e6e7" stroke="#6f7578" stroke-width="0.4" />
<polygon points="513.8,268.3 583.5,310.0 636.4,280.5 566.7,240.0" fill="#dfe6ea" stroke="#8b9296" stroke-width="0.4" />
<polygon points="583.5,310.0 693.7,247.5 693.7,325.5 583.5,383.0" fill="#9ca3a7" stroke="#6f7578" stroke-width="0.5" />
<polygon points="583.5,310.0 592.0,305.3 592.0,387.5 583.5,383.0" fill="#b3b9bc" stroke="#6f7578" stroke-width="0.4" />
<polygon points="513.8,268.3 583.5,310.0 583.5,383.0 513.8,342.0" fill="#c9ced1" stroke="#6f7578" stroke-width="0.5" />
<polygon points="520.8,293.3 572.5,319.2 572.5,363.7 520.8,337.8" fill="#c3c8cb" stroke="#565c60" stroke-width="0.7" />
<polygon points="523.8,297.8 570.1,320.7 570.1,359.2 523.8,336.3" fill="#7a8185" stroke="#565c60" stroke-width="0.5" />
<polygon points="523.8,297.8 570.1,320.7 570.1,323.6 523.8,300.7" fill="#d3d7d9" />
<polygon points="523.8,302.1 570.1,324.9 570.1,327.8 523.8,305.0" fill="#d3d7d9" />
<polygon points="523.8,306.4 570.1,329.2 570.1,332.1 523.8,309.3" fill="#d3d7d9" />
<polygon points="523.8,310.6 570.1,333.5 570.1,336.4 523.8,313.5" fill="#d3d7d9" />
<polygon points="523.8,314.9 570.1,337.8 570.1,340.7 523.8,317.8" fill="#d3d7d9" />
<polygon points="523.8,319.2 570.1,342.0 570.1,344.9 523.8,322.1" fill="#d3d7d9" />
<polygon points="523.8,323.5 570.1,346.3 570.1,349.2 523.8,326.4" fill="#d3d7d9" />
<polygon points="523.8,327.7 570.1,350.6 570.1,353.5 523.8,330.7" fill="#d3d7d9" />
<polygon points="523.8,332.0 570.1,354.9 570.1,357.8 523.8,334.9" fill="#d3d7d9" />
<polygon points="572.5,319.2 574.7,318.1 574.7,362.6 572.5,363.7" fill="#9aa1a4" stroke="#6f7578" stroke-width="0.4" />
<polygon points="520.8,293.3 523.0,292.2 574.7,318.1 572.5,319.2" fill="#e3e6e7" stroke="#6f7578" stroke-width="0.4" />
<polygon points="489.0,321.0 600.0,385.7 600.0,393.7 489.0,329.0" fill="#84c6d9" stroke="#6aa7b8" stroke-width="0.3" />
<polygon points="489.0,325.0 600.0,389.7 600.0,393.7 489.0,329.0" fill="#a9d6e2" stroke="#6aa7b8" stroke-width="0.3" />
<polyline points="632.2,361.3 632.2,300.6 676.8,323.9 676.8,384.6 662.8,377.3" fill="none" stroke="#7a715c" stroke-width="3.3" />
<polyline points="632.2,361.3 632.2,300.6 676.8,323.9 676.8,384.6 662.8,377.3" fill="none" stroke="#d6d0be" stroke-width="2.3" />
<path d="M598.5,324 L632,303.5 C652,300 669,318 673.6,350 C674.6,366 669,374 661,378.5 L640,391.5 L640,346 Z" fill="#dfdacb" stroke="#7a715c" stroke-width="0.5" />
<path d="M619,331.5 L646,316.5 C660,322 668,338 669,356" fill="none" stroke="#b9ae95" stroke-width="0.5" />
<path d="M598.5,325 L638,346.5 L638,393 C632,399 622,397.5 613,393 L598.5,385 Z" fill="#d8d2c0" stroke="#7a715c" stroke-width="0.5" />
<path d="M619,333 C630,340 637,352 638,366" fill="none" stroke="#9a917b" stroke-width="0.5" />
<path d="M621,340 C629,347 634,358 634.5,372 L634.5,396" fill="none" stroke="#9a917b" stroke-width="0.5" />
<ellipse cx="611.5" cy="365" rx="8.3" ry="10.5" fill="#d2cbb8" stroke="#8d8470" stroke-width="0.5" transform="rotate(-14 611.5 365)"/>
<ellipse cx="612" cy="365.5" rx="5.6" ry="7.4" fill="#ddd7c6" stroke="#8d8470" stroke-width="0.5" transform="rotate(-14 612 365.5)"/>
<ellipse cx="612.5" cy="366" rx="2.8" ry="3.6" fill="#d8cfb8" stroke="#8d8470" stroke-width="0.4"/>
<polyline points="596.0,362.5 612.0,366.5 622.0,364.0" fill="none" stroke="#7a715c" stroke-width="2.8" />
<polyline points="596.0,362.5 612.0,366.5 622.0,364.0" fill="none" stroke="#e1d8c4" stroke-width="1.8" />
<polyline points="608.0,372.0 608.0,390.0" fill="none" stroke="#7a715c" stroke-width="2.8" />
<polyline points="608.0,372.0 608.0,390.0" fill="none" stroke="#e1d8c4" stroke-width="1.8" />
<polyline points="616.0,374.0 616.0,395.0" fill="none" stroke="#7a715c" stroke-width="2.8" />
<polyline points="616.0,374.0 616.0,395.0" fill="none" stroke="#e1d8c4" stroke-width="1.8" />
<polyline points="600.0,375.0 612.0,369.0 624.0,374.0" fill="none" stroke="#7a715c" stroke-width="2.8" />
<polyline points="600.0,375.0 612.0,369.0 624.0,374.0" fill="none" stroke="#e1d8c4" stroke-width="1.8" />
<polyline points="595.1,322.0 639.7,345.3 639.7,406.0 595.1,382.7 595.1,322.0" fill="none" stroke="#7a715c" stroke-width="3.3" />
<polyline points="595.1,322.0 639.7,345.3 639.7,406.0 595.1,382.7 595.1,322.0" fill="none" stroke="#dbd5c4" stroke-width="2.3" />
<polygon points="683.7,362.5 694.5,356.6 694.5,373.1 683.7,379.0" fill="#dfe4e7" stroke="#6b7377" stroke-width="0.6" />
<polygon points="695.3,356.1 706.0,350.2 706.0,366.7 695.3,372.6" fill="#dfe4e7" stroke="#6b7377" stroke-width="0.6" />
<polygon points="706.8,349.7 717.6,343.8 717.6,360.3 706.8,366.2" fill="#dfe4e7" stroke="#6b7377" stroke-width="0.6" />
<polygon points="718.4,343.3 729.1,337.4 729.1,353.9 718.4,359.8" fill="#dfe4e7" stroke="#6b7377" stroke-width="0.6" />
<polygon points="729.9,336.9 740.7,331.0 740.7,347.5 729.9,353.4" fill="#dfe4e7" stroke="#6b7377" stroke-width="0.6" />
<polygon points="741.5,330.5 752.2,324.6 752.2,341.1 741.5,347.0" fill="#dfe4e7" stroke="#6b7377" stroke-width="0.6" />
<polygon points="753.0,324.2 763.8,318.2 763.8,334.7 753.0,340.7" fill="#dfe4e7" stroke="#6b7377" stroke-width="0.6" />
<polygon points="764.6,317.8 775.3,311.8 775.3,328.3 764.6,334.3" fill="#dfe4e7" stroke="#6b7377" stroke-width="0.6" />
<polygon points="776.1,311.4 786.9,305.4 786.9,321.9 776.1,327.9" fill="#dfe4e7" stroke="#6b7377" stroke-width="0.6" />
<polygon points="683.7,379.0 787.7,321.5 793.7,325.0 691.2,382.0" fill="#dfe4e6" stroke="#7d8487" stroke-width="0.4" />
<polygon points="679.5,377.5 691.2,384.0 691.2,446.0 679.5,439.5" fill="#7d878c" stroke="#50575a" stroke-width="0.5" />
<polyline points="680.0,379.6 686.0,382.9" fill="none" stroke="#3f4548" stroke-width="0.5" />
<polyline points="680.0,381.2 686.0,384.5" fill="none" stroke="#3f4548" stroke-width="0.5" />
<polyline points="680.0,382.8 686.0,386.1" fill="none" stroke="#3f4548" stroke-width="0.5" />
<polyline points="680.0,384.4 686.0,387.7" fill="none" stroke="#3f4548" stroke-width="0.5" />
<polyline points="680.0,386.0 686.0,389.3" fill="none" stroke="#3f4548" stroke-width="0.5" />
<polyline points="680.0,387.6 686.0,390.9" fill="none" stroke="#3f4548" stroke-width="0.5" />
<polyline points="680.0,389.2 686.0,392.5" fill="none" stroke="#3f4548" stroke-width="0.5" />
<polyline points="680.0,390.8 686.0,394.1" fill="none" stroke="#3f4548" stroke-width="0.5" />
<polyline points="680.0,392.4 686.0,395.7" fill="none" stroke="#3f4548" stroke-width="0.5" />
<polyline points="680.0,394.0 686.0,397.3" fill="none" stroke="#3f4548" stroke-width="0.5" />
<polyline points="680.0,395.6 686.0,398.9" fill="none" stroke="#3f4548" stroke-width="0.5" />
<polyline points="680.0,397.2 686.0,400.5" fill="none" stroke="#3f4548" stroke-width="0.5" />
<polyline points="680.0,398.8 686.0,402.1" fill="none" stroke="#3f4548" stroke-width="0.5" />
<polyline points="680.0,400.4 686.0,403.7" fill="none" stroke="#3f4548" stroke-width="0.5" />
<polyline points="680.0,402.0 686.0,405.3" fill="none" stroke="#3f4548" stroke-width="0.5" />
<polyline points="680.0,403.6 686.0,406.9" fill="none" stroke="#3f4548" stroke-width="0.5" />
<polyline points="680.0,405.2 686.0,408.5" fill="none" stroke="#3f4548" stroke-width="0.5" />
<polyline points="680.0,406.8 686.0,410.1" fill="none" stroke="#3f4548" stroke-width="0.5" />
<polyline points="680.0,408.4 686.0,411.7" fill="none" stroke="#3f4548" stroke-width="0.5" />
<polyline points="680.0,410.0 686.0,413.3" fill="none" stroke="#3f4548" stroke-width="0.5" />
<polyline points="680.0,411.6 686.0,414.9" fill="none" stroke="#3f4548" stroke-width="0.5" />
<polyline points="680.0,413.2 686.0,416.5" fill="none" stroke="#3f4548" stroke-width="0.5" />
<polyline points="680.0,414.8 686.0,418.1" fill="none" stroke="#3f4548" stroke-width="0.5" />
<polyline points="680.0,416.4 686.0,419.7" fill="none" stroke="#3f4548" stroke-width="0.5" />
<polyline points="680.0,418.0 686.0,421.3" fill="none" stroke="#3f4548" stroke-width="0.5" />
<polyline points="680.0,419.6 686.0,422.9" fill="none" stroke="#3f4548" stroke-width="0.5" />
<polyline points="680.0,421.2 686.0,424.5" fill="none" stroke="#3f4548" stroke-width="0.5" />
<polyline points="680.0,422.8 686.0,426.1" fill="none" stroke="#3f4548" stroke-width="0.5" />
<polyline points="680.0,424.4 686.0,427.7" fill="none" stroke="#3f4548" stroke-width="0.5" />
<polyline points="680.0,426.0 686.0,429.3" fill="none" stroke="#3f4548" stroke-width="0.5" />
<polyline points="680.0,427.6 686.0,430.9" fill="none" stroke="#3f4548" stroke-width="0.5" />
<polyline points="680.0,429.2 686.0,432.5" fill="none" stroke="#3f4548" stroke-width="0.5" />
<polyline points="680.0,430.8 686.0,434.1" fill="none" stroke="#3f4548" stroke-width="0.5" />
<polyline points="680.0,432.4 686.0,435.7" fill="none" stroke="#3f4548" stroke-width="0.5" />
<polyline points="680.0,434.0 686.0,437.3" fill="none" stroke="#3f4548" stroke-width="0.5" />
<polyline points="680.0,435.6 686.0,438.9" fill="none" stroke="#3f4548" stroke-width="0.5" />
<polyline points="680.0,437.2 686.0,440.5" fill="none" stroke="#3f4548" stroke-width="0.5" />
<polygon points="686.3,381.3 691.2,384.0 691.2,446.0 686.3,443.3" fill="#dfe4e6" stroke="#7d8487" stroke-width="0.4" />
<polygon points="691.2,385.0 793.7,328.7 793.7,388.7 691.2,445.0" fill="#1d5eab" stroke="#143f78" stroke-width="0.5" />
<polygon points="691.2,385.0 793.7,328.7 793.7,350.2 691.2,406.5" fill="#2166b3" />
<polyline points="691.2,406.5 793.7,350.2" fill="none" stroke="#143f78" stroke-width="0.5" />
<polyline points="743.7,356.2 743.7,416.2" fill="none" stroke="#cfd6da" stroke-width="1.2" />
<polygon points="691.2,445.0 793.7,388.7 796.7,391.2 694.2,447.5" fill="#dfe4e6" stroke="#7d8487" stroke-width="0.4" />
<polygon points="793.7,328.7 796.2,330.2 796.2,390.2 793.7,388.7" fill="#b9c0c4" stroke="#7d8487" stroke-width="0.4" />
<polyline points="664.5,419.0 683.0,429.5" fill="none" stroke="#3a4043" stroke-width="1.1" />
<polyline points="664.5,421.4 683.0,431.9" fill="none" stroke="#3a4043" stroke-width="1.1" />
<polyline points="664.5,423.8 683.0,434.3" fill="none" stroke="#3a4043" stroke-width="1.1" />
<polyline points="664.5,426.2 683.0,436.7" fill="none" stroke="#3a4043" stroke-width="1.1" />
<polyline points="664.5,428.6 683.0,439.1" fill="none" stroke="#3a4043" stroke-width="1.1" />
<polyline points="664.5,431.0 683.0,441.5" fill="none" stroke="#3a4043" stroke-width="1.1" />
<polyline points="664.5,433.4 683.0,443.9" fill="none" stroke="#3a4043" stroke-width="1.1" />
<polyline points="666.0,421.9 666.0,434.9" fill="none" stroke="#565d61" stroke-width="0.6" />
<polyline points="669.6,423.9 669.6,436.9" fill="none" stroke="#565d61" stroke-width="0.6" />
<polyline points="673.2,426.0 673.2,439.0" fill="none" stroke="#565d61" stroke-width="0.6" />
<polyline points="676.8,428.0 676.8,441.0" fill="none" stroke="#565d61" stroke-width="0.6" />
<polyline points="680.4,430.1 680.4,443.1" fill="none" stroke="#565d61" stroke-width="0.6" />
<polyline points="666.2,409.5 666.2,429.0" fill="none" stroke="#2e3336" stroke-width="4.4" />
<polyline points="665.6,410.5 665.6,428.0" fill="none" stroke="#6a7276" stroke-width="1.4" />
<ellipse cx="666.2" cy="409.5" rx="2.2" ry="1.2" fill="#aeb5b9" stroke="#2e3336" stroke-width="0.4"/>
<polyline points="671.5,401.5 671.5,431.0" fill="none" stroke="#2e3336" stroke-width="4.4" />
<polyline points="670.9,402.5 670.9,430.0" fill="none" stroke="#6a7276" stroke-width="1.4" />
<ellipse cx="671.5" cy="401.5" rx="2.2" ry="1.2" fill="#aeb5b9" stroke="#2e3336" stroke-width="0.4"/>
<circle cx="713" cy="404.2" r="6.3" fill="#f4f6f6" stroke="#333" stroke-width="0.9"/>
<polyline points="709.2,404.2 716.8,404.2" fill="none" stroke="#444" stroke-width="1.2" />
<polygon points="720.0,440.5 788.5,400.8 806.0,411.0 752.0,461.0 747.0,458.0" fill="#9fd2e0" stroke="#5d9fb3" stroke-width="0.4" />
<polygon points="720.0,440.5 752.0,459.0 752.0,465.0 720.0,446.0" fill="#86c8da" stroke="#5d9fb3" stroke-width="0.4" />
<polygon points="725.0,443.3 786.7,408.3 800.0,416.0 752.5,458.5" fill="#2b2f31" />
<polygon points="795.5,383.5 808.0,391.0 808.0,397.0 795.5,389.5" fill="#9fd2e0" stroke="#5d9fb3" stroke-width="0.4" />
<polygon points="853.3,340.0 889.0,359.5 889.0,438.0 853.3,418.5" fill="#c5cbcf" stroke="#6f7578" stroke-width="0.5" />
<path d="M808.3,369 L853.3,340 L853.3,422 L820,441.5 L751.7,480 L745.8,474 L745.8,472.5 C770,452 790,428 799,408 C805,397 808,390 808.3,386.5 Z" fill="#a9afb2" stroke="#6f7578" stroke-width="0.5" />
<path d="M745.8,474 L751.7,480 L751.7,476 Z" fill="#8f9598" />
<text x="810.8" y="327" font-size="6.3" text-anchor="middle" fill="#6a7074" textLength="25" lengthAdjust="spacingAndGlyphs">RETURN</text>
<text x="810.8" y="334.2" font-size="6.3" text-anchor="middle" fill="#6a7074">AIR</text>
<circle cx="825.3" cy="334.6" r="2" fill="#9aa0a3" stroke="#555" stroke-width="0.4"/>
<polyline points="803.5,348.5 807.0,346.8" fill="none" stroke="#777" stroke-width="1.2" />
<circle cx="818.3" cy="347.2" r="10.0" fill="#eedb1c"/>
<circle cx="818.3" cy="347.2" r="7.6" fill="#f4f5f5" stroke="#222" stroke-width="1.1"/>
<text x="818.3" y="351.15999999999997" font-size="11" font-weight="bold" text-anchor="middle" fill="#222">T</text>
<circle cx="818.3" cy="364.3" r="10.0" fill="#eedb1c"/>
<circle cx="818.3" cy="364.3" r="7.6" fill="#f4f5f5" stroke="#222" stroke-width="1.1"/>
<text x="818.3" y="368.26" font-size="11" font-weight="bold" text-anchor="middle" fill="#222">H</text>
<polyline points="780.8,481.0 780.8,495.0" fill="none" stroke="#8e1419" stroke-width="4.2" />
<polyline points="780.8,481.0 780.8,495.0" fill="none" stroke="#d8232a" stroke-width="3.2" />
<ellipse cx="780.8" cy="495.5" rx="5.2" ry="2.8" fill="#d8232a" stroke="#8e1419" stroke-width="0.5"/>
<path d="M761.2,434 L761.2,483 A15,6.3 0 0 0 791.2,483 L791.2,434 Z" fill="#d8232a" stroke="#8e1419" stroke-width="0.5" />
<ellipse cx="776.2" cy="434" rx="15" ry="6.3" fill="#df3036" stroke="#8e1419" stroke-width="0.5"/>
<path d="M767.5,485 L767.5,448 A9.5,6 0 0 1 786.5,448 L786.5,485" fill="#bd1b22" stroke="#9c151b" stroke-width="0.6" />
<path d="M767.5,447 A9.5,3.6 0 0 0 786.5,447" fill="none" stroke="#8e1217" stroke-width="0.9" />
<path d="M767.5,450 A9.5,3.6 0 0 0 786.5,450" fill="none" stroke="#8e1217" stroke-width="0.9" />
<path d="M767.5,453 A9.5,3.6 0 0 0 786.5,453" fill="none" stroke="#8e1217" stroke-width="0.9" />
<path d="M767.5,456 A9.5,3.6 0 0 0 786.5,456" fill="none" stroke="#8e1217" stroke-width="0.9" />
<path d="M767.5,459 A9.5,3.6 0 0 0 786.5,459" fill="none" stroke="#8e1217" stroke-width="0.9" />
<path d="M767.5,462 A9.5,3.6 0 0 0 786.5,462" fill="none" stroke="#8e1217" stroke-width="0.9" />
<path d="M767.5,465 A9.5,3.6 0 0 0 786.5,465" fill="none" stroke="#8e1217" stroke-width="0.9" />
<path d="M767.5,468 A9.5,3.6 0 0 0 786.5,468" fill="none" stroke="#8e1217" stroke-width="0.9" />
<path d="M767.5,471 A9.5,3.6 0 0 0 786.5,471" fill="none" stroke="#8e1217" stroke-width="0.9" />
<path d="M767.5,474 A9.5,3.6 0 0 0 786.5,474" fill="none" stroke="#8e1217" stroke-width="0.9" />
<path d="M767.5,477 A9.5,3.6 0 0 0 786.5,477" fill="none" stroke="#8e1217" stroke-width="0.9" />
<path d="M767.5,480 A9.5,3.6 0 0 0 786.5,480" fill="none" stroke="#8e1217" stroke-width="0.9" />
<path d="M767.5,483 A9.5,3.6 0 0 0 786.5,483" fill="none" stroke="#8e1217" stroke-width="0.9" />
<polyline points="772.0,444.0 772.0,488.0" fill="none" stroke="#a3161c" stroke-width="0.7" />
<polyline points="782.0,444.0 782.0,488.0" fill="none" stroke="#a3161c" stroke-width="0.7" />
<polyline points="788.6,436.0 788.6,487.0" fill="none" stroke="#8e1419" stroke-width="2.6" />
<polyline points="788.6,436.0 788.6,487.0" fill="none" stroke="#d8232a" stroke-width="1.7" />
<polyline points="792.6,436.0 792.6,487.0" fill="none" stroke="#8e1419" stroke-width="2.6" />
<polyline points="792.6,436.0 792.6,487.0" fill="none" stroke="#d8232a" stroke-width="1.7" />
<polyline points="800.8,432.0 800.8,480.0" fill="none" stroke="#8e1419" stroke-width="4.6" />
<polyline points="800.8,432.0 800.8,480.0" fill="none" stroke="#d8232a" stroke-width="3.6" />
<ellipse cx="800.8" cy="431.5" rx="2.3" ry="1.2" fill="#e4474c" stroke="#8e1419" stroke-width="0.4"/>
<polyline points="793.5,442.8 798.5,440.4" fill="none" stroke="#d8232a" stroke-width="1.5" />
<polyline points="793.5,446.1 798.5,443.7" fill="none" stroke="#d8232a" stroke-width="1.5" />
<polyline points="793.5,449.4 798.5,447.0" fill="none" stroke="#d8232a" stroke-width="1.5" />
<polyline points="793.5,452.7 798.5,450.3" fill="none" stroke="#d8232a" stroke-width="1.5" />
<polyline points="793.5,456.0 798.5,453.6" fill="none" stroke="#d8232a" stroke-width="1.5" />
<polyline points="793.5,459.3 798.5,456.9" fill="none" stroke="#d8232a" stroke-width="1.5" />
<polyline points="793.5,462.6 798.5,460.2" fill="none" stroke="#d8232a" stroke-width="1.5" />
<polyline points="793.5,465.9 798.5,463.5" fill="none" stroke="#d8232a" stroke-width="1.5" />
<polyline points="793.5,469.2 798.5,466.8" fill="none" stroke="#d8232a" stroke-width="1.5" />
<polyline points="793.5,472.5 798.5,470.1" fill="none" stroke="#d8232a" stroke-width="1.5" />
<polyline points="793.5,475.8 798.5,473.4" fill="none" stroke="#d8232a" stroke-width="1.5" />
<polyline points="793.5,479.1 798.5,476.7" fill="none" stroke="#d8232a" stroke-width="1.5" />
<ellipse cx="801.5" cy="481" rx="6" ry="3.3" fill="#d8232a" stroke="#8e1419" stroke-width="0.5"/>
<ellipse cx="801.2" cy="479.8" rx="3.2" ry="1.7" fill="#d8232a" stroke="#8e1419" stroke-width="0.4"/>
<polygon points="816.2,458.7 835.0,468.0 855.5,456.2 836.0,446.0" fill="#d8232a" stroke="#8e1419" stroke-width="0.5" />
<polygon points="823.5,431.0 823.5,457.0 835.0,464.0 851.0,455.0 858.5,450.5 858.5,436.0 850.0,431.0" fill="#d8232a" stroke="#8e1419" stroke-width="0.5" />
<polyline points="850.0,431.0 850.0,456.0" fill="none" stroke="#8e1419" stroke-width="0.4" />
<path d="M826.1,410 L826.1,433 A10.8,5.2 0 0 0 847.6999999999999,433 L847.6999999999999,410 Z" fill="#d8232a" stroke="#8e1419" stroke-width="0.5" />
<ellipse cx="836.9" cy="410" rx="10.8" ry="5.2" fill="#df3036" stroke="#8e1419" stroke-width="0.5"/>
<path d="M826.1,429 A10.8,5.2 0 0 0 847.7,429" fill="none" stroke="#8e1419" stroke-width="0.5" />
<polygon points="853.0,440.0 870.0,450.0 884.0,442.0 884.0,420.0 853.0,420.0" fill="#d8232a" stroke="#8e1419" stroke-width="0.5" />
<ellipse cx="878.5" cy="430" rx="7.5" ry="10" fill="#d8232a" stroke="#8e1419" stroke-width="0.5"/>
<ellipse cx="875" cy="431" rx="4.5" ry="6.5" fill="none" stroke="#8e1419" stroke-width="0.5"/>
<path d="M854.2,406.7 L854.2,424 A10,4.8 0 0 0 874.2,424 L874.2,406.7 Z" fill="#d8232a" stroke="#8e1419" stroke-width="0.5" />
<ellipse cx="864.2" cy="406.7" rx="10" ry="4.8" fill="#df3036" stroke="#8e1419" stroke-width="0.5"/>
<path d="M854.2,421 A10,4.8 0 0 0 874.2,421" fill="none" stroke="#8e1419" stroke-width="0.5" />
<polyline points="847.0,424.0 856.0,429.0" fill="none" stroke="#8e1419" stroke-width="3.4" />
<polyline points="847.0,424.0 856.0,429.0" fill="none" stroke="#d8232a" stroke-width="2.4" />
<polyline points="871.0,346.5 890.0,336.0" fill="none" stroke="#8b8168" stroke-width="3.2" />
<polyline points="871.0,346.5 890.0,336.0" fill="none" stroke="#d3cdbd" stroke-width="2.2" />
<polyline points="972.5,406.5 1015.0,382.0" fill="none" stroke="#8b8168" stroke-width="3.6" />
<polyline points="972.5,406.5 1015.0,382.0" fill="none" stroke="#d3cdbd" stroke-width="2.6" />
<polyline points="1014.0,362.0 1014.0,382.0" fill="none" stroke="#8b8168" stroke-width="3.2" />
<polyline points="1014.0,362.0 1014.0,382.0" fill="none" stroke="#d3cdbd" stroke-width="2.2" />
<polygon points="870.0,289.0 891.7,276.7 897.0,279.5 875.0,292.0" fill="#dcd7c8" stroke="#8b8168" stroke-width="0.5" />
<polygon points="870.0,289.0 875.0,292.0 875.0,297.0 870.0,294.0" fill="#cdc7b5" stroke="#8b8168" stroke-width="0.5" />
<polygon points="871.7,295.8 974.2,358.3 974.2,383.8 871.7,325.3" fill="#d2ccbb" stroke="#8b8168" stroke-width="0.5" />
<polygon points="974.2,358.3 1015.8,334.2 1015.8,360.2 974.2,383.8" fill="#c8c1af" stroke="#8b8168" stroke-width="0.5" />
<polygon points="871.7,295.8 908.3,274.2 1015.8,334.2 974.2,358.3" fill="#dbd6c7" stroke="#8b8168" stroke-width="0.5" />
<polygon points="907.0,274.5 907.0,271.0 913.0,274.4 913.0,277.5" fill="#d2ccbb" stroke="#8b8168" stroke-width="0.45" />
<polygon points="959.0,303.5 959.0,300.0 965.0,303.4 965.0,306.5" fill="#d2ccbb" stroke="#8b8168" stroke-width="0.45" />
<polygon points="1009.5,333.0 1009.5,329.5 1015.5,332.9 1015.5,336.0" fill="#d2ccbb" stroke="#8b8168" stroke-width="0.45" />
<ellipse cx="915.5" cy="298.8" rx="23" ry="15.3" fill="#dfdacb" stroke="#8b8168" stroke-width="0.5"/>
<ellipse cx="915.5" cy="295.8" rx="20.8" ry="12" fill="#6a655c" stroke="#3b3833" stroke-width="0.5"/>
<polyline points="918.5,295.8 936.0,295.8" fill="none" stroke="#8a857a" stroke-width="0.35" />
<polyline points="918.4,296.2 935.6,298.3" fill="none" stroke="#8a857a" stroke-width="0.35" />
<polyline points="918.2,296.5 934.2,300.6" fill="none" stroke="#8a857a" stroke-width="0.35" />
<polyline points="917.9,296.8 932.1,302.7" fill="none" stroke="#8a857a" stroke-width="0.35" />
<polyline points="917.5,297.1 929.2,304.6" fill="none" stroke="#8a857a" stroke-width="0.35" />
<polyline points="917.0,297.3 925.8,306.0" fill="none" stroke="#8a857a" stroke-width="0.35" />
<polyline points="916.4,297.4 921.8,307.0" fill="none" stroke="#8a857a" stroke-width="0.35" />
<polyline points="915.8,297.5 917.6,307.5" fill="none" stroke="#8a857a" stroke-width="0.35" />
<polyline points="915.2,297.5 913.4,307.5" fill="none" stroke="#8a857a" stroke-width="0.35" />
<polyline points="914.6,297.4 909.2,307.0" fill="none" stroke="#8a857a" stroke-width="0.35" />
<polyline points="914.0,297.3 905.2,306.0" fill="none" stroke="#8a857a" stroke-width="0.35" />
<polyline points="913.5,297.1 901.8,304.6" fill="none" stroke="#8a857a" stroke-width="0.35" />
<polyline points="913.1,296.8 898.9,302.7" fill="none" stroke="#8a857a" stroke-width="0.35" />
<polyline points="912.8,296.5 896.8,300.6" fill="none" stroke="#8a857a" stroke-width="0.35" />
<polyline points="912.6,296.2 895.4,298.3" fill="none" stroke="#8a857a" stroke-width="0.35" />
<polyline points="912.5,295.8 895.0,295.8" fill="none" stroke="#8a857a" stroke-width="0.35" />
<polyline points="912.6,295.4 895.4,293.3" fill="none" stroke="#8a857a" stroke-width="0.35" />
<polyline points="912.8,295.1 896.8,291.0" fill="none" stroke="#8a857a" stroke-width="0.35" />
<polyline points="913.1,294.8 898.9,288.9" fill="none" stroke="#8a857a" stroke-width="0.35" />
<polyline points="913.5,294.5 901.8,287.0" fill="none" stroke="#8a857a" stroke-width="0.35" />
<polyline points="914.0,294.3 905.2,285.6" fill="none" stroke="#8a857a" stroke-width="0.35" />
<polyline points="914.6,294.2 909.2,284.6" fill="none" stroke="#8a857a" stroke-width="0.35" />
<polyline points="915.2,294.1 913.4,284.1" fill="none" stroke="#8a857a" stroke-width="0.35" />
<polyline points="915.8,294.1 917.6,284.1" fill="none" stroke="#8a857a" stroke-width="0.35" />
<polyline points="916.4,294.2 921.8,284.6" fill="none" stroke="#8a857a" stroke-width="0.35" />
<polyline points="917.0,294.3 925.8,285.6" fill="none" stroke="#8a857a" stroke-width="0.35" />
<polyline points="917.5,294.5 929.2,287.0" fill="none" stroke="#8a857a" stroke-width="0.35" />
<polyline points="917.9,294.8 932.1,288.9" fill="none" stroke="#8a857a" stroke-width="0.35" />
<polyline points="918.2,295.1 934.2,291.0" fill="none" stroke="#8a857a" stroke-width="0.35" />
<polyline points="918.4,295.4 935.6,293.3" fill="none" stroke="#8a857a" stroke-width="0.35" />
<polyline points="917.9,296.3 935.0,299.4" fill="none" stroke="#4a4640" stroke-width="1.2" />
<polyline points="916.0,297.3 919.8,307.3" fill="none" stroke="#4a4640" stroke-width="1.2" />
<polyline points="913.6,296.8 900.3,303.7" fill="none" stroke="#4a4640" stroke-width="1.2" />
<polyline points="913.1,295.3 896.0,292.2" fill="none" stroke="#4a4640" stroke-width="1.2" />
<polyline points="915.0,294.3 911.2,284.3" fill="none" stroke="#4a4640" stroke-width="1.2" />
<polyline points="917.4,294.8 930.7,287.9" fill="none" stroke="#4a4640" stroke-width="1.2" />
<ellipse cx="915.5" cy="295.8" rx="2.6" ry="1.6" fill="#eee9dc" stroke="#3b3833" stroke-width="0.4"/>
<ellipse cx="968" cy="329.3" rx="23" ry="15.3" fill="#dfdacb" stroke="#8b8168" stroke-width="0.5"/>
<ellipse cx="968" cy="326.3" rx="20.8" ry="12" fill="#6a655c" stroke="#3b3833" stroke-width="0.5"/>
<polyline points="971.0,326.3 988.5,326.3" fill="none" stroke="#8a857a" stroke-width="0.35" />
<polyline points="970.9,326.7 988.1,328.8" fill="none" stroke="#8a857a" stroke-width="0.35" />
<polyline points="970.7,327.0 986.7,331.1" fill="none" stroke="#8a857a" stroke-width="0.35" />
<polyline points="970.4,327.3 984.6,333.2" fill="none" stroke="#8a857a" stroke-width="0.35" />
<polyline points="970.0,327.6 981.7,335.1" fill="none" stroke="#8a857a" stroke-width="0.35" />
<polyline points="969.5,327.8 978.2,336.5" fill="none" stroke="#8a857a" stroke-width="0.35" />
<polyline points="968.9,327.9 974.3,337.5" fill="none" stroke="#8a857a" stroke-width="0.35" />
<polyline points="968.3,328.0 970.1,338.0" fill="none" stroke="#8a857a" stroke-width="0.35" />
<polyline points="967.7,328.0 965.9,338.0" fill="none" stroke="#8a857a" stroke-width="0.35" />
<polyline points="967.1,327.9 961.7,337.5" fill="none" stroke="#8a857a" stroke-width="0.35" />
<polyline points="966.5,327.8 957.8,336.5" fill="none" stroke="#8a857a" stroke-width="0.35" />
<polyline points="966.0,327.6 954.3,335.1" fill="none" stroke="#8a857a" stroke-width="0.35" />
<polyline points="965.6,327.3 951.4,333.2" fill="none" stroke="#8a857a" stroke-width="0.35" />
<polyline points="965.3,327.0 949.3,331.1" fill="none" stroke="#8a857a" stroke-width="0.35" />
<polyline points="965.1,326.7 947.9,328.8" fill="none" stroke="#8a857a" stroke-width="0.35" />
<polyline points="965.0,326.3 947.5,326.3" fill="none" stroke="#8a857a" stroke-width="0.35" />
<polyline points="965.1,325.9 947.9,323.8" fill="none" stroke="#8a857a" stroke-width="0.35" />
<polyline points="965.3,325.6 949.3,321.5" fill="none" stroke="#8a857a" stroke-width="0.35" />
<polyline points="965.6,325.3 951.4,319.4" fill="none" stroke="#8a857a" stroke-width="0.35" />
<polyline points="966.0,325.0 954.3,317.5" fill="none" stroke="#8a857a" stroke-width="0.35" />
<polyline points="966.5,324.8 957.8,316.1" fill="none" stroke="#8a857a" stroke-width="0.35" />
<polyline points="967.1,324.7 961.7,315.1" fill="none" stroke="#8a857a" stroke-width="0.35" />
<polyline points="967.7,324.6 965.9,314.6" fill="none" stroke="#8a857a" stroke-width="0.35" />
<polyline points="968.3,324.6 970.1,314.6" fill="none" stroke="#8a857a" stroke-width="0.35" />
<polyline points="968.9,324.7 974.3,315.1" fill="none" stroke="#8a857a" stroke-width="0.35" />
<polyline points="969.5,324.8 978.2,316.1" fill="none" stroke="#8a857a" stroke-width="0.35" />
<polyline points="970.0,325.0 981.7,317.5" fill="none" stroke="#8a857a" stroke-width="0.35" />
<polyline points="970.4,325.3 984.6,319.4" fill="none" stroke="#8a857a" stroke-width="0.35" />
<polyline points="970.7,325.6 986.7,321.5" fill="none" stroke="#8a857a" stroke-width="0.35" />
<polyline points="970.9,325.9 988.1,323.8" fill="none" stroke="#8a857a" stroke-width="0.35" />
<polyline points="970.4,326.8 987.5,329.9" fill="none" stroke="#4a4640" stroke-width="1.2" />
<polyline points="968.5,327.8 972.3,337.8" fill="none" stroke="#4a4640" stroke-width="1.2" />
<polyline points="966.1,327.3 952.8,334.2" fill="none" stroke="#4a4640" stroke-width="1.2" />
<polyline points="965.6,325.8 948.5,322.7" fill="none" stroke="#4a4640" stroke-width="1.2" />
<polyline points="967.5,324.8 963.7,314.8" fill="none" stroke="#4a4640" stroke-width="1.2" />
<polyline points="969.9,325.3 983.2,318.4" fill="none" stroke="#4a4640" stroke-width="1.2" />
<ellipse cx="968" cy="326.3" rx="2.6" ry="1.6" fill="#eee9dc" stroke="#3b3833" stroke-width="0.4"/>
<polygon points="867.5,293.0 872.7,295.9 872.7,348.9 867.5,346.0" fill="#d3cdbd" stroke="#8b8168" stroke-width="0.5" />
<polygon points="917.5,324.5 923.1,327.6 923.1,359.1 917.5,356.0" fill="#d3cdbd" stroke="#8b8168" stroke-width="0.5" />
<polygon points="968.5,353.5 974.1,356.6 974.1,408.1 968.5,405.0" fill="#d3cdbd" stroke="#8b8168" stroke-width="0.5" />
<polygon points="977.0,378.5 1015.5,356.3 1017.0,358.0 1017.0,361.5 980.5,383.0 977.0,383.8" fill="#c6c9c5" stroke="#64686a" stroke-width="0.6" />
<polyline points="979.5,381.2 1015.5,360.3" fill="none" stroke="#7c807d" stroke-width="1.1" />
<polygon points="386.7,154.2 460.8,167.5 450.8,174.2 475.0,187.5 443.3,205.0 420.0,192.5 405.0,198.3" fill="rgba(38,132,205,0.62)" />
<path d="M386.7,154.2 L405,198.3 C411,197 415,194 416.7,191.7 C413,178 402,164 386.7,154.2 Z" fill="rgba(38,120,195,0.35)" />
<path d="M506.7,244.2 L538.3,225.8 C543,228 546,228.5 550,228.3 C560,226 566,222.5 575,221.7 C582,221 588,221.5 593.3,222.5 C599,224 604,226 608.3,228.3 L626.7,241.7 L615.8,250 C611,254 606,257.5 600,257 C594,256 590,252 586.7,250.8 C582,250 578,250.5 573.3,250.8 C566,253 561,257 555,259 C550,260 546,259.5 541.7,259 C537,258 533,257 530,255.8 Z" fill="rgba(38,132,205,0.62)" />
<path d="M597.5,255.8 L615.8,250 L620,252 C623,255 629,260 630,266.7 C630,272 628,275 626.7,276.7 C623,280 620,281.5 616.7,283.3 C612,285 609,286 608.3,288.3 C607,290 606.5,291 606.7,292.5 L590,305.8 L562.5,296.7 C566,294 568,293 571.7,291.7 C578,290.5 582,290.5 585,288.3 C588,286 589,284 588.3,281.7 C587,279 585.5,278.5 585.8,276.7 C586.5,274 588,273 590,271.7 C594,269.5 597,268 598.3,265 C599.5,262 600,259 600,256.7 Z" fill="#1f8ed2" />
<polygon points="615.8,250.0 629.0,241.7 646.0,250.0 646.7,247.5 657.5,254.0 641.7,261.7 641.0,258.5 632.0,259.5 624.0,257.5" fill="#2a9fdb" />
<polygon points="493.3,343.3 504.0,325.0 514.5,329.0 538.3,312.5 550.8,320.0 526.5,335.0 529.0,339.0" fill="rgba(34,132,210,0.8)" />
<polygon points="670.0,228.7 681.2,210.0 692.0,214.0 713.7,198.0 727.5,205.5 705.0,219.5 706.2,223.7" fill="#2b9fd8" />
<polygon points="637.5,305.0 711.2,318.7 702.5,326.0 727.5,338.7 696.2,356.2 672.5,343.7 656.2,348.7" fill="rgba(28,140,215,0.9)" />
<path d="M637.5,305 L656.2,348.7 C662,347 666,344 668.5,341 C664,328 653,314 637.5,305 Z" fill="rgba(20,110,190,0.3)" />
<path d="M732.5,387.5 C742,379 752,374 760,372.5 C772,384 780,398 782.5,412.5 L752.5,435 C750,418 742,400 732.5,387.5 Z" fill="rgba(52,170,225,0.88)" stroke="#2a8ec6" stroke-width="0.4" />
<polyline points="571.7,173.9 578.3,169.4 945.0,381.3 910.5,401.2" fill="none" stroke="#151515" stroke-width="2.3" />
<polyline points="312.5,195.8 423.3,259.2" fill="none" stroke="#151515" stroke-width="2.3" />
<polyline points="312.5,216.7 420.0,278.3" fill="none" stroke="#151515" stroke-width="2.3" />
<polyline points="421.0,258.0 428.0,260.5" fill="none" stroke="#8d8470" stroke-width="3" />
<polyline points="421.0,258.0 428.0,260.5" fill="none" stroke="#e1d8c4" stroke-width="2" />
<polyline points="418.0,277.3 426.0,281.0 429.0,281.0" fill="none" stroke="#8d8470" stroke-width="3" />
<polyline points="418.0,277.3 426.0,281.0 429.0,281.0" fill="none" stroke="#e1d8c4" stroke-width="2" />
<polyline points="392.8,249.0 392.8,262.5" fill="none" stroke="#151515" stroke-width="1.8" />
<path d="M388.2,233.5 L397.2,237.5 L388.8,246.5 L397.8,250.5 Z" fill="#f6f7f7" stroke="#2a5a6c" stroke-width="0.8"/>
<polyline points="449.8,276.5 449.8,312.5 441.2,318.7 655.8,444.0" fill="none" stroke="#151515" stroke-width="2.3" />
<path d="M447.2,281 C447.2,276 452.5,276.5 452.4,272" fill="none" stroke="#8d8470" stroke-width="2.8" />
<path d="M447.2,281 C447.2,276 452.5,276.5 452.4,272" fill="none" stroke="#e1d8c4" stroke-width="1.8" />
<path d="M395,276.7 L380,285 C379.5,291 377,294.3 373.5,294 C370.5,293.6 370.5,290.5 368.5,290 C367.3,290 366.8,291 366.8,292.5 L366.8,309 L617.5,456.7" fill="none" stroke="#151515" stroke-width="2.3" />
<polyline points="671.3,394.0 655.0,402.6 655.0,444.5" fill="none" stroke="#e8931f" stroke-width="2.0" />
<polyline points="665.8,397.0 665.8,409.0" fill="none" stroke="#e8931f" stroke-width="1.6" />
<polyline points="655.0,444.3 786.0,521.0 1018.8,386.2 1018.8,356.2 1006.5,349.3" fill="none" stroke="#e6b422" stroke-width="1.9" />
<polyline points="691.7,444.0 722.5,462.3 710.8,469.5 780.6,511.3 885.8,451.7 870.0,442.5" fill="none" stroke="#1b57b8" stroke-width="2.0" />
<polyline points="858.3,465.8 843.3,457.5" fill="none" stroke="#1b57b8" stroke-width="2.0" />
<polyline points="788.0,488.7 813.7,503.7" fill="none" stroke="#e8931f" stroke-width="1.7" />
<polyline points="780.3,503.5 780.3,700.0" fill="none" stroke="#e8931f" stroke-width="1.9" />
<polyline points="801.0,492.5 801.0,687.5" fill="none" stroke="#2b96d8" stroke-width="1.9" />
<path d="M646.7,422.5 L631,431.8 C630.5,437.5 628,440.5 624.5,440 C621.5,439.5 621.5,436 619.5,435.5 C618.5,435.5 618.2,436.5 618.2,438 L618.2,598.7 L688.7,557.5 L688.7,573.5" fill="none" stroke="#1f7fd2" stroke-width="2.0" />
<polyline points="663.7,560.0 795.0,636.0" fill="none" stroke="#2b96d8" stroke-width="1.9" />
<polyline points="817.5,651.0 838.7,663.7 812.5,679.5" fill="none" stroke="#2b96d8" stroke-width="1.9" />
<polyline points="795.0,690.0 780.3,698.7" fill="none" stroke="#2b96d8" stroke-width="1.9" />
<polyline points="801.0,687.5 810.0,683.0" fill="none" stroke="#2b96d8" stroke-width="1.9" />
<polyline points="594.5,595.0 707.5,662.5" fill="none" stroke="#e8931f" stroke-width="1.9" />
<polyline points="727.5,671.0 775.0,702.5 780.3,699.5" fill="none" stroke="#e6b422" stroke-width="1.9" />
<polyline points="707.5,662.5 713.0,665.7" fill="none" stroke="#e8931f" stroke-width="1.9" />
<polyline points="875.0,413.3 908.3,432.5 1008.7,375.0 982.5,361.2" fill="none" stroke="#d8232a" stroke-width="2.0" />
<polyline points="884.2,418.3 900.0,409.5" fill="none" stroke="#d8232a" stroke-width="2.0" />
<polyline points="802.5,526.5 815.8,519.0 815.8,553.0 723.7,606.0 723.7,647.5" fill="none" stroke="#efd91c" stroke-width="4.8" stroke-linejoin="miter"/>
<polyline points="802.5,526.5 815.8,519.0 815.8,553.0 723.7,606.0 723.7,647.5" fill="none" stroke="#2a2a1a" stroke-width="1.1" stroke-dasharray="2.6 2.2"/>
<circle cx="826.7" cy="538" r="9.7" fill="#eedb1c"/>
<circle cx="826.7" cy="538" r="7.299999999999999" fill="#f4f5f5" stroke="#222" stroke-width="1.1"/>
<text x="826.7" y="541.78" font-size="10.5" font-weight="bold" text-anchor="middle" fill="#222">T</text>
<path d="M904.5,405.7 L898.5,413.9 L898.5,404.7 Z M904.5,405.7 L910.5,406.7 L910.5,397.5 Z" fill="#e6e9e8" stroke="#1c1c1c" stroke-width="1.1" stroke-linejoin="miter"/>
<path d="M942.5,412.5 L936.5,420.7 L936.5,411.5 Z M942.5,412.5 L948.5,413.5 L948.5,404.3 Z" fill="#e6e9e8" stroke="#1c1c1c" stroke-width="1.1" stroke-linejoin="miter"/>
<path d="M718,668 L716.6,662.8 L708.1,667.4 Z M718,668 L727.9,668.6 L719.4,673.2 Z" fill="#dee1e0" stroke="#1c1c1c" stroke-width="1.1" stroke-linejoin="miter"/>
<path d="M795.6,690.4 L794.2,685.2 L785.7,689.8 Z M795.6,690.4 L805.5,691.0 L797.0,695.6 Z" fill="#dee1e0" stroke="#1c1c1c" stroke-width="1.1" stroke-linejoin="miter"/>
<path d="M810,448 L804.0,448.7 L804.0,440.3 Z M810,448 L816.0,455.7 L816.0,447.3 Z" fill="#f6f7f7" stroke="#1c1c1c" stroke-width="1.0" stroke-linejoin="miter"/>
<polyline points="814.0,450.0 823.0,455.5" fill="none" stroke="#d8232a" stroke-width="1.4" />
<text x="606.5" y="547.3" font-size="17" font-weight="bold" fill="#efe02a" stroke="#efe02a" stroke-width="3.6" stroke-linejoin="round">&#916;P =</text>
<text x="606.5" y="547.3" font-size="17" font-weight="bold" fill="#3a3410">&#916;P =</text>
<circle cx="656.5" cy="540.3" r="8.6" fill="none" stroke="#efe02a" stroke-width="5.2"/>
<circle cx="656.5" cy="540.3" r="8.6" fill="none" stroke="#2e2a10" stroke-width="1.8"/>
<polyline points="650.5,540.3 662.5,540.3" fill="none" stroke="#efe02a" stroke-width="4.6" />
<polyline points="650.8,540.3 662.2,540.3" fill="none" stroke="#2e2a10" stroke-width="1.8" />
<polygon points="708.7,648.7 725.0,638.7 760.0,657.5 760.0,665.0 742.5,675.0 708.7,656.2" fill="#c4222a" stroke="#8e1419" stroke-width="0.4" />
<polygon points="708.7,648.7 725.0,638.7 760.0,657.5 742.5,667.5" fill="#d8262d" stroke="#8e1419" stroke-width="0.4" />
<polyline points="742.5,667.5 742.5,675.0" fill="none" stroke="#8e1419" stroke-width="0.4" />
<polyline points="723.7,606.0 723.7,647.5" fill="none" stroke="#efd91c" stroke-width="4.8" />
<polyline points="723.7,606.0 723.7,647.5" fill="none" stroke="#2a2a1a" stroke-width="1.1" stroke-dasharray="2.6 2.2"/>
<polyline points="709.0,660.0 714.0,657.5" fill="none" stroke="#d8232a" stroke-width="1.4" />
<polyline points="729.0,672.0 734.0,669.5" fill="none" stroke="#e6b422" stroke-width="1.4" />
<g transform="translate(796.8 606.4) scale(1.0)">
<ellipse cx="0" cy="0" rx="7.2" ry="9" fill="#c9cdd0" stroke="#4d5255" stroke-width="0.6" transform="rotate(-25)"/>
<ellipse cx="0.8" cy="0.6" rx="5" ry="6.6" fill="#9da3a7" stroke="#4d5255" stroke-width="0.5" transform="rotate(-25)"/>
<ellipse cx="1.4" cy="1" rx="3" ry="4" fill="#d9dcde" stroke="#4d5255" stroke-width="0.5" transform="rotate(-25)"/>
<ellipse cx="1.8" cy="1.2" rx="1.5" ry="2" fill="#2a2d2f" transform="rotate(-25)"/>
</g>
<ellipse cx="801" cy="589.7" rx="5.6" ry="3" fill="#c9cdd0" stroke="#4d5255" stroke-width="0.6"/>
<ellipse cx="801" cy="589.3" rx="2.8" ry="1.5" fill="#6d7377" stroke="#4d5255" stroke-width="0.4"/>
<polygon points="797.0,591.5 805.0,591.5 804.5,600.0 799.0,600.0" fill="#c9cdd0" stroke="#4d5255" stroke-width="0.5" />
<g transform="translate(803.5 638.2) scale(1.0)">
<ellipse cx="0" cy="0" rx="7.2" ry="9" fill="#c9cdd0" stroke="#4d5255" stroke-width="0.6" transform="rotate(-25)"/>
<ellipse cx="0.8" cy="0.6" rx="5" ry="6.6" fill="#9da3a7" stroke="#4d5255" stroke-width="0.5" transform="rotate(-25)"/>
<ellipse cx="1.4" cy="1" rx="3" ry="4" fill="#d9dcde" stroke="#4d5255" stroke-width="0.5" transform="rotate(-25)"/>
<ellipse cx="1.8" cy="1.2" rx="1.5" ry="2" fill="#2a2d2f" transform="rotate(-25)"/>
</g>
<g transform="translate(814.6 648.6) scale(0.58)">
<ellipse cx="0" cy="0" rx="7.2" ry="9" fill="#c9cdd0" stroke="#4d5255" stroke-width="0.6" transform="rotate(-25)"/>
<ellipse cx="0.8" cy="0.6" rx="5" ry="6.6" fill="#9da3a7" stroke="#4d5255" stroke-width="0.5" transform="rotate(-25)"/>
<ellipse cx="1.4" cy="1" rx="3" ry="4" fill="#d9dcde" stroke="#4d5255" stroke-width="0.5" transform="rotate(-25)"/>
<ellipse cx="1.8" cy="1.2" rx="1.5" ry="2" fill="#2a2d2f" transform="rotate(-25)"/>
</g>
<polygon points="803.0,672.0 822.0,661.0 835.0,668.5 835.0,677.5 816.0,688.0 803.0,681.0" fill="#c5c9cc" stroke="#5d6367" stroke-width="0.5" />
<polygon points="803.0,672.0 822.0,661.0 835.0,668.5 816.0,679.0" fill="#dde3e8" stroke="#5d6367" stroke-width="0.5" />
<polyline points="816.0,679.0 816.0,688.0" fill="none" stroke="#5d6367" stroke-width="0.5" />
<polyline points="801.0,492.5 801.0,586.0" fill="none" stroke="#2b96d8" stroke-width="1.9" />
<polyline points="801.0,614.0 801.0,632.0" fill="none" stroke="#2b96d8" stroke-width="1.9" />
<polyline points="801.0,646.0 801.0,672.0" fill="none" stroke="#2b96d8" stroke-width="1.9" />
</svg>
</body></html>
